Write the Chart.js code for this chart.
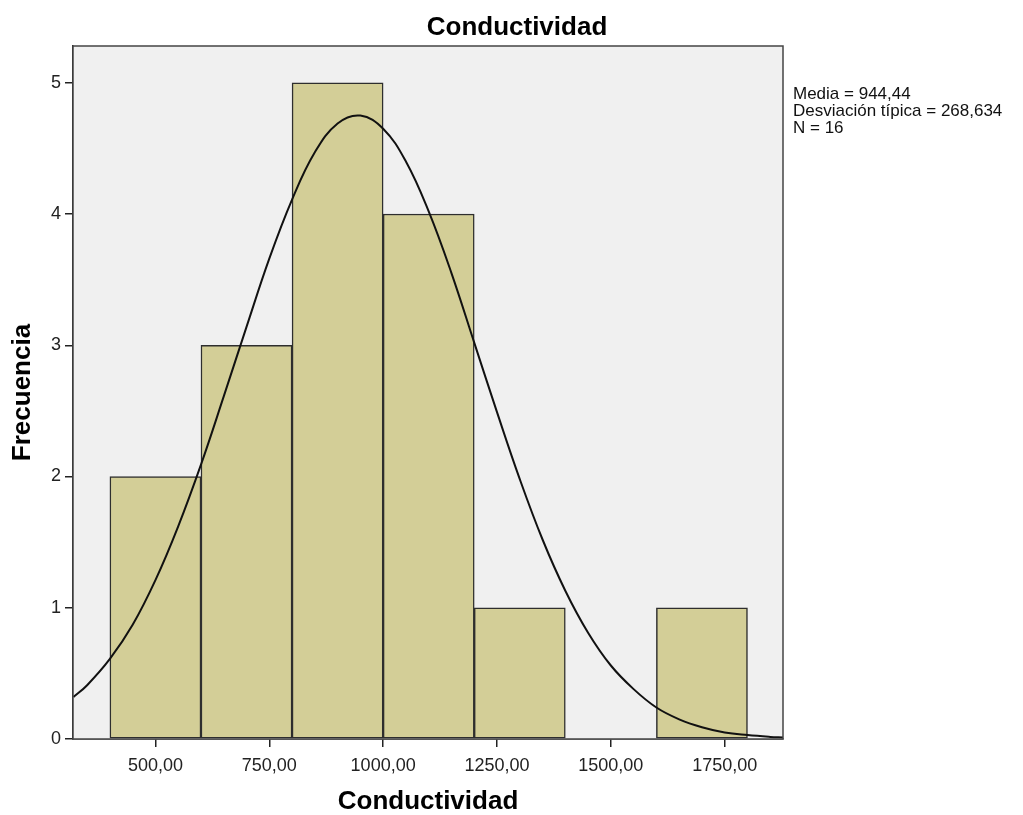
<!DOCTYPE html>
<html>
<head>
<meta charset="utf-8">
<script src="https://cdn.jsdelivr.net/npm/chart.js@4.4.1/dist/chart.umd.min.js"></script>
<style>
  body { margin: 0; background: #fff; }
  #wrap { width: 1023px; height: 815px; }
</style>
</head>
<body>
<div id="wrap"><canvas id="histChart" width="1023" height="815"></canvas></div>
<script>
// Histogram bins (centre of each 200-wide class) and frequencies
const binCenters = [500, 700, 900, 1100, 1300, 1500, 1700];
const frequencies = [2, 3, 5, 4, 1, 0, 1];

// Normal curve
const curveX = [320, 350, 400, 450, 500, 550, 600, 650, 700, 750, 800, 850, 900, 950,
  1000, 1050, 1100, 1150, 1200, 1250, 1300, 1350, 1400, 1450, 1500, 1550, 1600,
  1650, 1700, 1750, 1800, 1850, 1878];
const curveY = [0.32, 0.41, 0.61, 0.87, 1.21, 1.62, 2.09, 2.61, 3.14, 3.66, 4.11, 4.47,
  4.69, 4.75, 4.65, 4.40, 4.02, 3.55, 3.02, 2.49, 1.98, 1.52, 1.13, 0.81, 0.56,
  0.38, 0.24, 0.15, 0.09, 0.05, 0.03, 0.016, 0.011];

const xTicks = [500, 750, 1000, 1250, 1500, 1750];
const yTicks = [0, 1, 2, 3, 4, 5];

const chartTitle = 'Conductividad';
const xTitle = 'Conductividad';
const yTitle = 'Frecuencia';
const statsLines = ['Media = 944,44', 'Desviación típica = 268,634', 'N = 16'];

const FONT = '"Liberation Sans", Arial, sans-serif';

// Plot background, frame, title and stats text
const decorPlugin = {
    id: 'decor',
    beforeDatasetsDraw(chart) {
        const a = chart.chartArea;
        const ctx = chart.ctx;
        ctx.save();
        ctx.fillStyle = '#f0f0f0';
        ctx.fillRect(a.left, a.top, a.right - a.left, a.bottom - a.top);
        ctx.restore();
    },
    afterDraw(chart) {
        const a = chart.chartArea;
        const ctx = chart.ctx;
        ctx.save();
        ctx.strokeStyle = '#444';
        ctx.lineWidth = 1.5;
        ctx.strokeRect(a.left, a.top, a.right - a.left, a.bottom - a.top);

        ctx.fillStyle = '#000';
        ctx.font = 'bold 26px ' + FONT;
        ctx.textAlign = 'center';
        ctx.textBaseline = 'alphabetic';
        ctx.fillText(chartTitle, 517, 35);

        ctx.font = '17px ' + FONT;
        ctx.textAlign = 'left';
        ctx.fillStyle = '#111';
        statsLines.forEach((line, i) => {
            ctx.fillText(line, 793, 99 + i * 17);
        });
        ctx.restore();
    }
};

const ctx = document.getElementById('histChart').getContext('2d');
const chart = new Chart(ctx, {
    type: 'bar',
    data: {
        datasets: [{
            type: 'line',
            data: curveX.map((x, i) => ({ x: x, y: curveY[i] })),
            borderColor: '#111',
            borderWidth: 2,
            pointRadius: 0,
            fill: false,
            tension: 0.4,
            order: 0
        }, {
            type: 'bar',
            data: binCenters.map((x, i) => ({ x: x, y: frequencies[i] })),
            backgroundColor: '#d3ce97',
            borderColor: '#2e2e2e',
            borderWidth: 1.5,
            borderSkipped: false,
            barPercentage: 1,
            categoryPercentage: 1,
            order: 1
        }]
    },
    options: {
        responsive: false,
        animation: false,
        layout: { padding: { top: 46, right: 240, left: 0, bottom: 0 } },
        plugins: {
            legend: { display: false },
            tooltip: { enabled: false },
            title: { display: false }
        },
        scales: {
            x: {
                type: 'linear',
                min: 319,
                max: 1878,
                offset: false,
                afterBuildTicks: (scale) => {
                    scale.ticks = xTicks.map(v => ({ value: v }));
                },
                afterFit: (scale) => { scale.height = 76; },
                ticks: {
                    autoSkip: false,
                    maxRotation: 0,
                    padding: 8,
                    color: '#222',
                    font: { family: FONT, size: 18 },
                    callback: (v) => v.toFixed(2).replace('.', ',')
                },
                grid: {
                    offset: false,
                    drawOnChartArea: false,
                    drawTicks: true,
                    tickLength: 8,
                    color: '#222',
                    lineWidth: 1.5
                },
                border: { display: true, color: '#222', width: 1.5 },
                title: {
                    display: true,
                    text: xTitle,
                    color: '#000',
                    font: { family: FONT, size: 26, weight: 'bold', lineHeight: 1.0 },
                    padding: { top: 0, bottom: 0 }
                }
            },
            y: {
                min: 0,
                max: 5.28,
                afterBuildTicks: (scale) => {
                    scale.ticks = yTicks.map(v => ({ value: v }));
                },
                afterFit: (scale) => { scale.width = 73; },
                ticks: {
                    padding: 4,
                    color: '#222',
                    font: { family: FONT, size: 18 }
                },
                grid: {
                    drawOnChartArea: false,
                    drawTicks: true,
                    tickLength: 8,
                    color: '#222',
                    lineWidth: 1.5
                },
                border: { display: true, color: '#222', width: 1.5 },
                title: {
                    display: true,
                    text: yTitle,
                    color: '#000',
                    font: { family: FONT, size: 26, weight: 'bold', lineHeight: 1.0 },
                    padding: { top: 10, bottom: 0 }
                }
            }
        }
    },
    plugins: [decorPlugin]
});
</script>
</body>
</html>
